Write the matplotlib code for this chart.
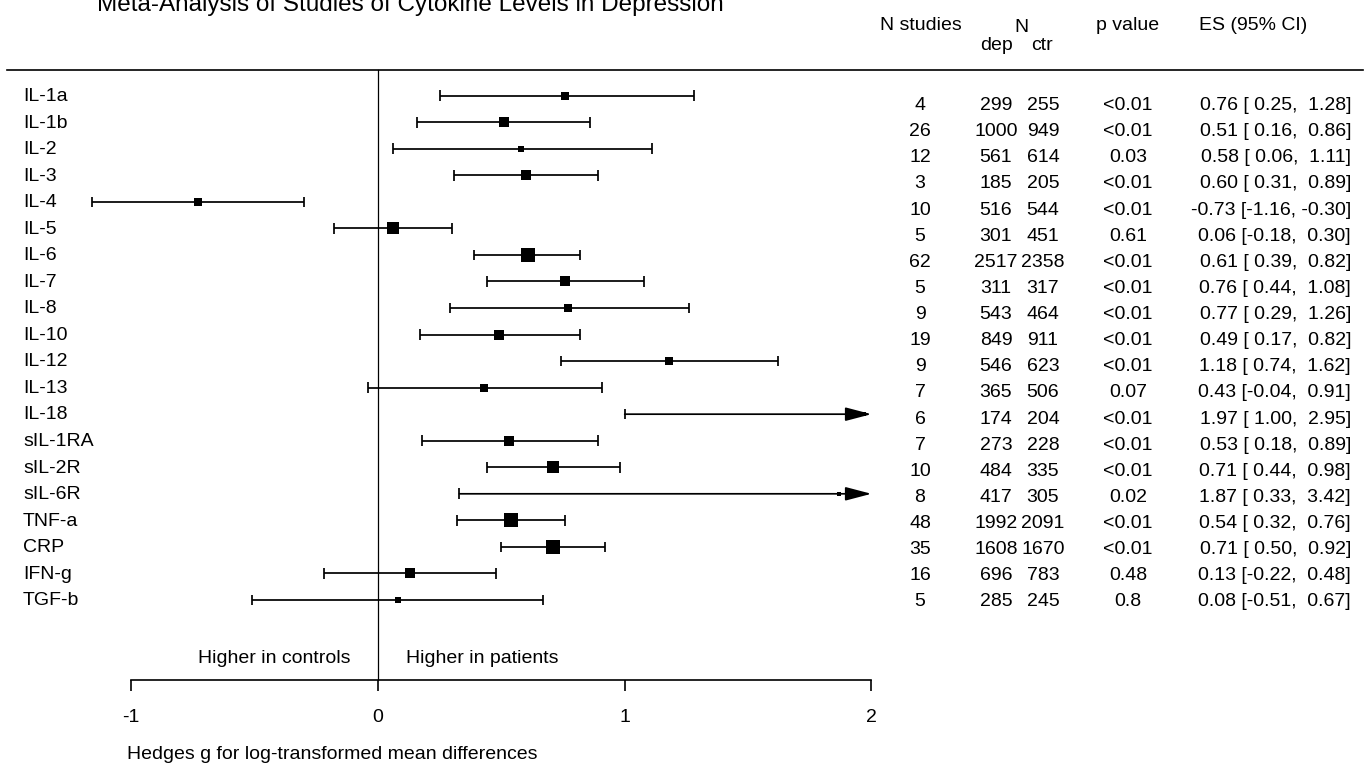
import matplotlib
matplotlib.use("Agg")
import matplotlib.pyplot as plt
import matplotlib.transforms as mtransforms
from matplotlib.lines import Line2D

plt.rcParams['font.family'] = ['Liberation Sans', 'DejaVu Sans']

# ---------------- data ----------------
labels = ["IL-1a", "IL-1b", "IL-2", "IL-3", "IL-4", "IL-5", "IL-6", "IL-7", "IL-8",
          "IL-10", "IL-12", "IL-13", "IL-18", "sIL-1RA", "sIL-2R", "sIL-6R",
          "TNF-a", "CRP", "IFN-g", "TGF-b"]
es = [0.76, 0.51, 0.58, 0.60, -0.73, 0.06, 0.61, 0.76, 0.77, 0.49, 1.18, 0.43,
      1.97, 0.53, 0.71, 1.87, 0.54, 0.71, 0.13, 0.08]
ci_low = [0.25, 0.16, 0.06, 0.31, -1.16, -0.18, 0.39, 0.44, 0.29, 0.17, 0.74, -0.04,
          1.00, 0.18, 0.44, 0.33, 0.32, 0.50, -0.22, -0.51]
ci_high = [1.28, 0.86, 1.11, 0.89, -0.30, 0.30, 0.82, 1.08, 1.26, 0.82, 1.62, 0.91,
           2.95, 0.89, 0.98, 3.42, 0.76, 0.92, 0.48, 0.67]
n_studies = [4, 26, 12, 3, 10, 5, 62, 5, 9, 19, 9, 7, 6, 7, 10, 8, 48, 35, 16, 5]
n_dep = [299, 1000, 561, 185, 516, 301, 2517, 311, 543, 849, 546, 365, 174, 273,
         484, 417, 1992, 1608, 696, 285]
n_ctr = [255, 949, 614, 205, 544, 451, 2358, 317, 464, 911, 623, 506, 204, 228,
         335, 305, 2091, 1670, 783, 245]
p_values = ["<0.01", "<0.01", "0.03", "<0.01", "<0.01", "0.61", "<0.01", "<0.01",
            "<0.01", "<0.01", "<0.01", "0.07", "<0.01", "<0.01", "<0.01", "0.02",
            "<0.01", "<0.01", "0.48", "0.8"]
x_ticks = [-1, 0, 1, 2]
x_tick_labels = ["-1", "0", "1", "2"]

title = "Meta-Analysis of Studies of Cytokine Levels in Depression"
xlabel = "Hedges g for log-transformed mean differences"

# ---------------- layout ----------------
W, H = 1368, 768
FS = 14
fig = plt.figure(figsize=(W / 100, H / 100), dpi=100)

axis_px = 680.0            # y pixel of the x axis line
row0_px, row_step = 95.7, 26.54
x0_px, unit_px = 378.0, 246.7

ax = fig.add_axes([0, 1 - axis_px / H, 1, axis_px / H])
ax.set_xlim(-x0_px / unit_px, (W - x0_px) / unit_px)
ax.set_ylim((axis_px - row0_px) / row_step, -row0_px / row_step)
ax.set_facecolor('none')

for s in ['left', 'right', 'top']:
    ax.spines[s].set_visible(False)
ax.spines['bottom'].set_bounds(-1, 2)
ax.spines['bottom'].set_linewidth(1.2)
ax.set_yticks([])
ax.set_xticks(x_ticks)
ax.set_xticklabels(x_tick_labels, fontsize=FS)
ax.tick_params(axis='x', direction='out', length=8, width=1.2, pad=13)

n = len(labels)
rows = list(range(n))
xmax = 2.0

# box size inversely proportional to CI width (precision)
info = [1.0 / (h - l) for l, h in zip(ci_low, ci_high)]
imax = max(info)
box_pt = [1.5 + 8.8 * v / imax for v in info]

lw = 1.25
cap = 0.2
for i in rows:
    lo, hi, e = ci_low[i], ci_high[i], es[i]
    if hi > xmax:
        ax.vlines(lo, i - cap, i + cap, color='black', lw=lw)
        ax.plot([e], [i], marker='s', ms=box_pt[i], color='black', mew=0)
        ax.annotate("", xy=(xmax, i), xytext=(lo, i),
                    arrowprops=dict(arrowstyle='-|>,head_length=1.6,head_width=0.42',
                                    mutation_scale=10, lw=lw, color='black',
                                    shrinkA=0, shrinkB=0), zorder=5)
    else:
        ax.plot([lo, hi], [i, i], color='black', lw=lw, solid_capstyle='butt')
        ax.vlines([lo, hi], i - cap, i + cap, color='black', lw=lw)
        ax.plot([e], [i], marker='s', ms=box_pt[i], color='black', mew=0)

# zero line
header_px = 69.5
ax.plot([0, 0], [(header_px - row0_px) / row_step, (axis_px - row0_px) / row_step],
        color='black', lw=0.9, clip_on=False)

# header horizontal line
fig.add_artist(Line2D([7 / W, 1363 / W], [1 - header_px / H] * 2, color='black', lw=1.2))

# row labels
tr = mtransforms.blended_transform_factory(fig.transFigure, ax.transData)
for i in rows:
    ax.text(23 / W, i + 5.3 / row_step, labels[i], transform=tr, fontsize=FS,
            ha='left', va='baseline')


def ftext(x, y, s, ha='center', size=FS):
    fig.text(x / W, 1 - y / H, s, ha=ha, va='baseline', fontsize=size)


# title (partly cut at top as in the reference)
ftext(97, 11.5, title, ha='left', size=17.5)

# table header
ftext(921, 30.5, "N studies")
ftext(1021, 32, "N")
ftext(996, 49.5, "dep")
ftext(1042, 49.5, "ctr")
ftext(1128, 30.5, "p value")
ftext(1253, 30.5, "ES (95% CI)")

# table body
tb0, tstep = 110.0, 26.13
for i in rows:
    yb = tb0 + tstep * i
    ftext(920, yb, str(n_studies[i]))
    ftext(996, yb, str(n_dep[i]))
    ftext(1043, yb, str(n_ctr[i]))
    ftext(1128, yb, p_values[i])
    ftext(1351, yb, f"{es[i]:.2f} [{ci_low[i]:5.2f}, {ci_high[i]:5.2f}]", ha='right')

# direction labels and axis label
ftext(350, 663, "Higher in controls", ha='right')
ftext(406, 663, "Higher in patients", ha='left')
ftext(127, 759, xlabel, ha='left')

fig.savefig("out.png", dpi=100)
